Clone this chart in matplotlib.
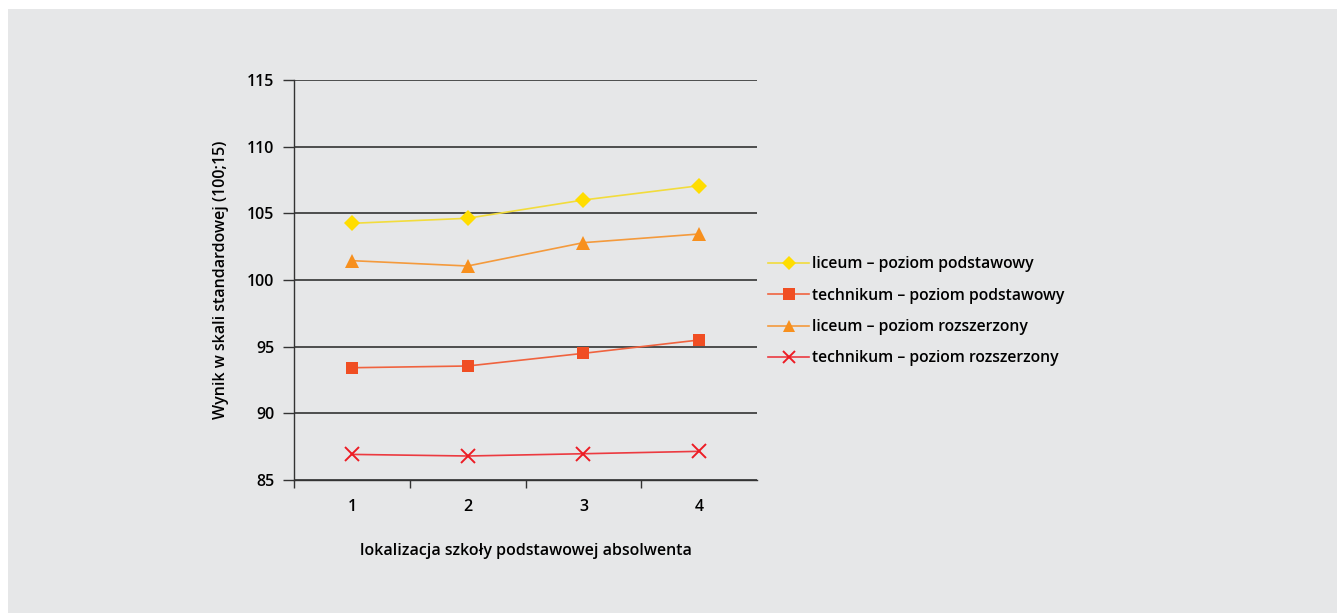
import matplotlib
matplotlib.use('Agg')
import matplotlib.pyplot as plt
from matplotlib.patches import Rectangle

plt.rcParams['font.family'] = ['Open Sans', 'DejaVu Sans']
plt.rcParams['font.weight'] = 'semibold'

BG = '#e6e7e8'

locations = [1, 2, 3, 4]
liceum_podst = [104.25, 104.63, 106.0, 107.07]
technikum_podst = [93.42, 93.55, 94.5, 95.5]
liceum_rozsz = [101.45, 101.05, 102.8, 103.45]
technikum_rozsz = [86.92, 86.8, 86.97, 87.15]
y_ticks = [85, 90, 95, 100, 105, 110, 115]

fig = plt.figure(figsize=(13.37, 6.13), dpi=100)
fig.patch.set_facecolor('white')
fig.patches.append(Rectangle((8 / 1337, 0), 1, 1 - 9 / 613, transform=fig.transFigure,
                             facecolor=BG, edgecolor='none', zorder=-10))

ax = fig.add_axes([294 / 1337, 1 - 480 / 613, 463 / 1337, 400 / 613])
ax.set_facecolor(BG)

series = [
    (liceum_podst, 'liceum – poziom podstawowy', '#ffdd00', 'D', 8, '#f2dc3c'),
    (technikum_podst, 'technikum – poziom podstawowy', '#f04e23', 's', 9, '#f0633f'),
    (liceum_rozsz, 'liceum – poziom rozszerzony', '#f7901e', '^', 10, '#f49a3c'),
    (technikum_rozsz, 'technikum – poziom rozszerzony', '#ed1c24', 'x', 10, '#ec3a40'),
]
for vals, label, mcolor, marker, size, lcolor in series:
    ax.plot(locations, vals, color=lcolor, lw=1.2, marker=marker, markersize=size,
            markerfacecolor=mcolor, markeredgecolor=mcolor,
            markeredgewidth=1.4 if marker == 'x' else 0, label=label, zorder=3)

ax.set_xlim(0.5, 4.5)
ax.set_ylim(85, 115)
ax.set_yticks(y_ticks)
ax.set_xticks(locations)
ax.set_xticks([0.5, 1.5, 2.5, 3.5], minor=True)
ax.tick_params(axis='x', which='major', length=0, pad=14, labelsize=11.5)
ax.tick_params(axis='x', which='minor', length=6, width=1, color='#333333')
ax.tick_params(axis='y', length=8, width=1, color='#333333', pad=6, labelsize=11.5)
ax.yaxis.grid(True, color='#333333', lw=1.2)
ax.set_axisbelow(True)
for side in ['top', 'right']:
    ax.spines[side].set_visible(False)
for side in ['left', 'bottom']:
    ax.spines[side].set_color('#333333')
    ax.spines[side].set_linewidth(1)

ax.set_xlabel('lokalizacja szkoły podstawowej absolwenta', fontsize=11.5,
              fontweight='semibold', labelpad=20)
ax.set_ylabel('Wynik w skali standardowej (100;15)', fontsize=11.5,
              fontweight='semibold', labelpad=13)

fig.legend(loc='upper left', bbox_to_anchor=(762 / 1337, 1 - 250 / 613),
           frameon=False, fontsize=11.3, handlelength=2.6, handletextpad=0.2,
           labelspacing=0.98, markerscale=0.9, borderaxespad=0)

fig.savefig('out.png', dpi=100, facecolor='white')
